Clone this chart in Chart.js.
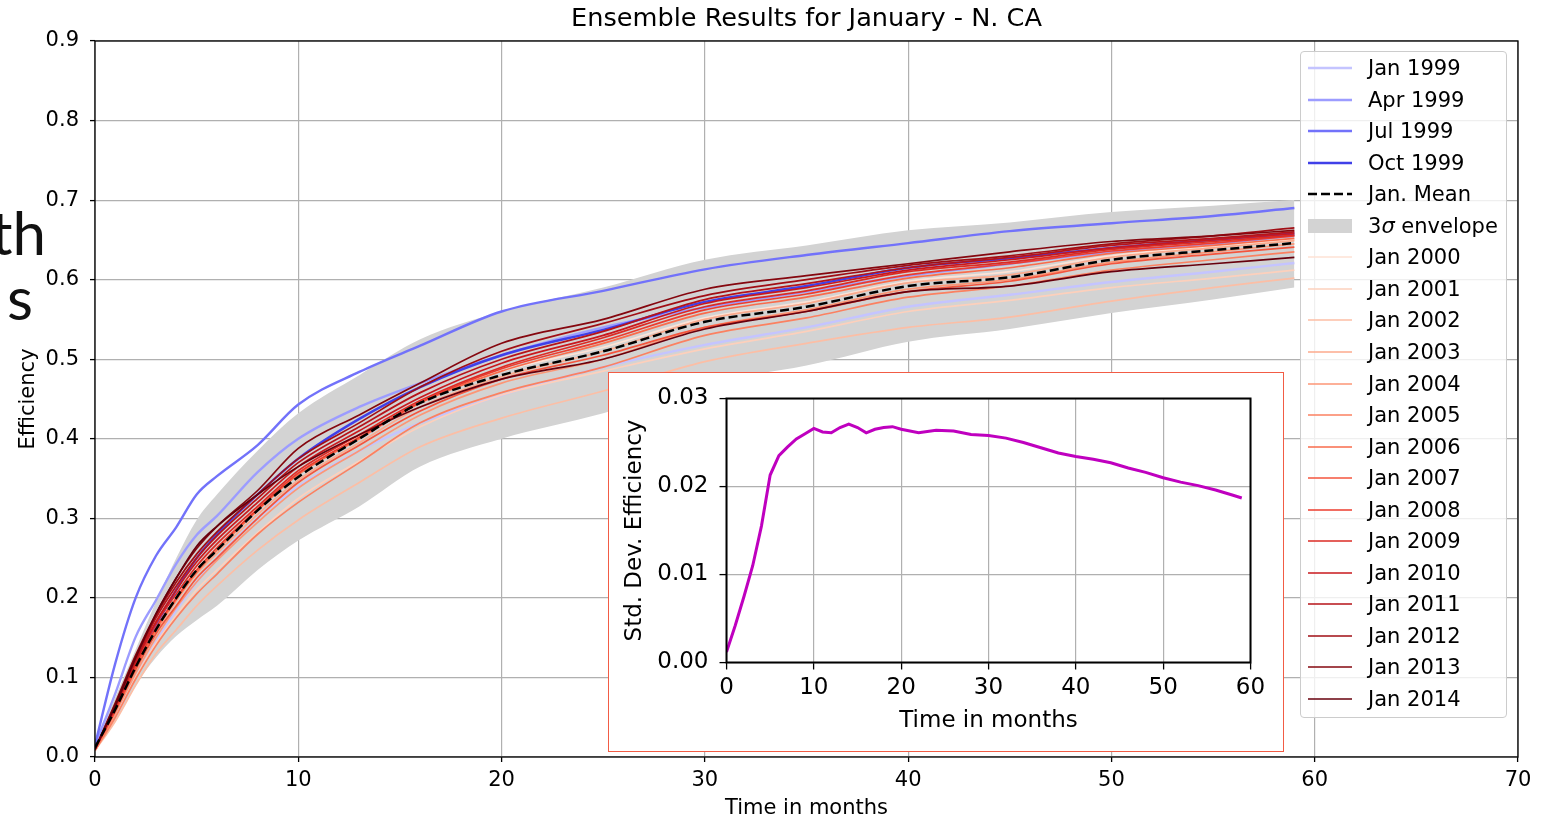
<!DOCTYPE html>
<html>
<head>
<meta charset="utf-8">
<script src="https://cdn.jsdelivr.net/npm/chart.js@4.4.1/dist/chart.umd.min.js"></script>
<style>
  html, body { margin: 0; padding: 0; background: #fff; }
  #page { position: relative; width: 1559px; height: 821px; overflow: hidden; font-family: 'DejaVu Sans', sans-serif; }
  #main { position: absolute; left: 0; top: 0; }
  .slide { position: absolute; font-family: 'Lato', 'Noto Sans', sans-serif; font-size: 60px; line-height: 60px; color: #111; white-space: nowrap; transform: translateX(-100%); }
  #inset { position: absolute; left: 608px; top: 372px; width: 676px; height: 380px; box-sizing: border-box; border: 1.5px solid #f25c45; background: #fff; }
  #inset canvas { position: absolute; left: 0; top: 0; }
  #legend { position: absolute; left: 1300px; top: 51px; width: 207px; height: 667px; box-sizing: border-box; border: 1px solid #cccccc; border-radius: 4px; background: rgba(255,255,255,0.8); }
  .row { position: absolute; left: 0; width: 200px; height: 24px; }
  .row svg { position: absolute; left: 7px; top: 2px; }
  .row span { position: absolute; left: 67px; top: 0; font-size: 21px; line-height: 24px; color: #000; white-space: nowrap; }
</style>
</head>
<body>
<div id="page">
  <canvas id="main" width="1559" height="821"></canvas>
  <div class="slide" style="left:46px; top:202px;">th</div>
  <div class="slide" style="left:33px; top:267px;">s</div>
  <div id="inset"><canvas id="std" width="673" height="377"></canvas></div>
  <div id="legend"></div>
</div>
<script>
const months = [0, 1, 2, 3, 4, 5, 6, 8, 10, 13, 16, 20, 25, 30, 35, 40, 45, 50, 55, 59];

// 1999 runs (blue)
const jan1999 = [0.010, 0.050, 0.100, 0.145, 0.185, 0.220, 0.250, 0.300, 0.340, 0.385, 0.420, 0.455, 0.490, 0.518, 0.540, 0.566, 0.581, 0.597, 0.610, 0.621];
const apr1999 = [0.015, 0.080, 0.151, 0.197, 0.243, 0.279, 0.303, 0.358, 0.400, 0.440, 0.470, 0.505, 0.540, 0.565, 0.585, 0.605, 0.620, 0.635, 0.645, 0.655];
const jul1999 = [0.015, 0.118, 0.200, 0.253, 0.289, 0.330, 0.353, 0.392, 0.443, 0.484, 0.517, 0.560, 0.586, 0.613, 0.631, 0.646, 0.661, 0.671, 0.680, 0.690];
const oct1999 = [0.010, 0.065, 0.122, 0.165, 0.210, 0.250, 0.280, 0.330, 0.375, 0.425, 0.465, 0.505, 0.537, 0.572, 0.592, 0.615, 0.627, 0.640, 0.650, 0.658];

// January mean and the 3 sigma envelope
const janMean = [0.012, 0.060, 0.113, 0.160, 0.200, 0.235, 0.260, 0.310, 0.352, 0.400, 0.445, 0.480, 0.510, 0.547, 0.566, 0.592, 0.603, 0.625, 0.637, 0.646];
const envHigh = [0.016, 0.075, 0.135, 0.195, 0.250, 0.298, 0.330, 0.385, 0.432, 0.480, 0.525, 0.560, 0.590, 0.625, 0.643, 0.662, 0.672, 0.685, 0.693, 0.700];
const envLow  = [0.008, 0.045, 0.090, 0.125, 0.152, 0.172, 0.190, 0.235, 0.272, 0.315, 0.365, 0.400, 0.432, 0.470, 0.492, 0.522, 0.538, 0.558, 0.575, 0.590];

// January runs 2000..2014 (reds)
const jan2000 = [0.012, 0.062, 0.115, 0.162, 0.202, 0.237, 0.263, 0.313, 0.356, 0.404, 0.448, 0.485, 0.515, 0.552, 0.572, 0.598, 0.610, 0.630, 0.642, 0.650];
const jan2001 = [0.008, 0.050, 0.100, 0.143, 0.178, 0.210, 0.235, 0.282, 0.325, 0.372, 0.415, 0.455, 0.485, 0.513, 0.535, 0.560, 0.574, 0.590, 0.602, 0.612];
const jan2002 = [0.008, 0.045, 0.090, 0.130, 0.160, 0.190, 0.215, 0.260, 0.298, 0.345, 0.390, 0.426, 0.460, 0.497, 0.520, 0.540, 0.553, 0.573, 0.590, 0.602];
const jan2003 = [0.010, 0.057, 0.110, 0.157, 0.196, 0.230, 0.256, 0.305, 0.348, 0.395, 0.440, 0.478, 0.510, 0.550, 0.570, 0.596, 0.606, 0.628, 0.640, 0.649];
const jan2004 = [0.008, 0.055, 0.105, 0.150, 0.188, 0.220, 0.247, 0.295, 0.338, 0.385, 0.430, 0.470, 0.500, 0.540, 0.562, 0.588, 0.600, 0.622, 0.635, 0.645];
const jan2005 = [0.008, 0.050, 0.098, 0.140, 0.175, 0.205, 0.230, 0.280, 0.320, 0.370, 0.420, 0.458, 0.490, 0.530, 0.552, 0.578, 0.592, 0.612, 0.625, 0.635];
const jan2006 = [0.010, 0.058, 0.112, 0.160, 0.198, 0.232, 0.260, 0.310, 0.355, 0.400, 0.445, 0.485, 0.520, 0.558, 0.578, 0.602, 0.615, 0.633, 0.643, 0.652];
const jan2007 = [0.010, 0.058, 0.110, 0.155, 0.190, 0.225, 0.250, 0.300, 0.345, 0.392, 0.435, 0.475, 0.505, 0.540, 0.560, 0.585, 0.598, 0.620, 0.632, 0.641];
const jan2008 = [0.010, 0.060, 0.115, 0.163, 0.200, 0.235, 0.263, 0.312, 0.357, 0.402, 0.446, 0.488, 0.523, 0.562, 0.582, 0.606, 0.620, 0.636, 0.646, 0.655];
const jan2009 = [0.010, 0.062, 0.118, 0.168, 0.205, 0.240, 0.268, 0.315, 0.360, 0.405, 0.448, 0.490, 0.527, 0.566, 0.586, 0.610, 0.622, 0.638, 0.648, 0.656];
const jan2010 = [0.010, 0.063, 0.120, 0.170, 0.210, 0.245, 0.273, 0.320, 0.365, 0.410, 0.452, 0.495, 0.530, 0.570, 0.590, 0.612, 0.625, 0.640, 0.650, 0.658];
const jan2011 = [0.010, 0.065, 0.122, 0.175, 0.215, 0.250, 0.278, 0.325, 0.370, 0.415, 0.458, 0.500, 0.535, 0.575, 0.595, 0.615, 0.628, 0.643, 0.652, 0.660];
const jan2012 = [0.010, 0.065, 0.125, 0.178, 0.220, 0.255, 0.283, 0.330, 0.375, 0.420, 0.465, 0.510, 0.545, 0.580, 0.600, 0.618, 0.630, 0.645, 0.655, 0.665];
const jan2013 = [0.010, 0.068, 0.128, 0.180, 0.225, 0.262, 0.290, 0.335, 0.388, 0.430, 0.470, 0.520, 0.550, 0.588, 0.605, 0.620, 0.635, 0.648, 0.655, 0.662];
const jan2014 = [0.010, 0.065, 0.125, 0.180, 0.225, 0.265, 0.290, 0.330, 0.365, 0.405, 0.440, 0.475, 0.500, 0.538, 0.560, 0.585, 0.592, 0.610, 0.620, 0.628];

const blueLabels = ['Jan 1999', 'Apr 1999', 'Jul 1999', 'Oct 1999'];
const blueSeries = [jan1999, apr1999, jul1999, oct1999];
const blueColors = ['#c4c4ff', '#9c9cff', '#7272fa', '#4040e8'];

const redLabels = ['Jan 2000', 'Jan 2001', 'Jan 2002', 'Jan 2003', 'Jan 2004', 'Jan 2005', 'Jan 2006', 'Jan 2007',
                   'Jan 2008', 'Jan 2009', 'Jan 2010', 'Jan 2011', 'Jan 2012', 'Jan 2013', 'Jan 2014'];
const redSeries = [jan2000, jan2001, jan2002, jan2003, jan2004, jan2005, jan2006, jan2007,
                   jan2008, jan2009, jan2010, jan2011, jan2012, jan2013, jan2014];
const redColors = ['#fee2d5', '#fdd0bc', '#fcbea5', '#fcaa8d', '#fc9676', '#fb8161', '#f96b4b', '#f4553d',
                   '#ec3c2e', '#db2b24', '#c9181d', '#b61319', '#a10e15', '#85070f', '#67000d'];

// inset: standard deviation of efficiency
const stdMonths = [0, 1, 2, 3, 4, 5, 6, 7, 8, 9, 10, 11, 12, 13, 14, 15, 16, 17, 18, 19, 20, 22, 24, 26, 28, 30,
                   32, 34, 36, 38, 40, 42, 44, 46, 48, 50, 52, 54, 56, 58, 59];
const stdValues = [0.0012, 0.0042, 0.0075, 0.0110, 0.0155, 0.0213, 0.0235, 0.0245, 0.0254, 0.0260, 0.0266,
                   0.0262, 0.0261, 0.0267, 0.0271, 0.0267, 0.0261, 0.0265, 0.0267, 0.0268, 0.0265, 0.0261,
                   0.0264, 0.0263, 0.0259, 0.0258, 0.0255, 0.0250, 0.0244, 0.0238, 0.0234, 0.0231, 0.0227,
                   0.0221, 0.0216, 0.0210, 0.0205, 0.0201, 0.0196, 0.0190, 0.0187];

const FONT = 'DejaVu Sans';
const TITLE = 'Ensemble Results for January - N. CA';
const pts = vals => months.map((m, i) => ({ x: m, y: vals[i] }));

// box around the plot area (matplotlib spines) and an axes title centred over it
const frame = {
    id: 'frame',
    afterDatasetsDraw(chart, args, opts) {
        const { ctx, chartArea: a } = chart;
        ctx.save();
        ctx.strokeStyle = '#000';
        ctx.lineWidth = opts.width || 1.3;
        ctx.strokeRect(a.left, a.top, a.right - a.left, a.bottom - a.top);
        if (opts.title) {
            ctx.fillStyle = '#000';
            ctx.font = `${opts.titleSize}px "${FONT}"`;
            ctx.textAlign = 'center';
            ctx.textBaseline = 'middle';
            ctx.fillText(opts.title, (a.left + a.right) / 2, opts.titleY);
        }
        ctx.restore();
    }
};

const datasets = [];
datasets.push({ label: 'Jan. Mean', data: pts(janMean), borderColor: '#000', borderWidth: 2.5, borderDash: [9, 4], order: 0 });
redSeries.forEach((s, i) => {
    datasets.push({ label: redLabels[i], data: pts(s), borderColor: redColors[i], borderWidth: 1.7, order: 15 - i });
});
blueSeries.forEach((s, i) => {
    datasets.push({ label: blueLabels[i], data: pts(s), borderColor: blueColors[i], borderWidth: 2.4, order: 20 - i });
});
datasets.push({ label: 'env low', data: pts(envLow), borderColor: 'rgba(0,0,0,0)', borderWidth: 0, fill: false, order: 31 });
datasets.push({ label: '3σ envelope', data: pts(envHigh), borderColor: 'rgba(0,0,0,0)', borderWidth: 0, backgroundColor: '#d3d3d3', fill: '-1', order: 30 });

function axisStyle(size, tickLen, pad) {
    return {
        ticks: { color: '#000', font: { family: FONT, size }, padding: pad, maxRotation: 0, autoSkip: false },
        grid: { color: '#b0b0b0', lineWidth: 1.2, tickLength: tickLen, tickColor: '#000', tickWidth: 1.3 },
        border: { display: false }
    };
}

const mx = axisStyle(21, 5, 6);
const my = axisStyle(21, 5, 11);

new Chart(document.getElementById('main'), {
    type: 'line',
    data: { datasets },
    options: {
        responsive: false,
        animation: false,
        layout: { padding: { left: 0, right: 41, top: 41, bottom: 0 } },
        elements: { point: { radius: 0 }, line: { cubicInterpolationMode: 'monotone' } },
        plugins: {
            legend: { display: false },
            tooltip: { enabled: false },
            frame: { width: 1.3, title: TITLE, titleSize: 25.6, titleY: 19 }
        },
        scales: {
            x: {
                type: 'linear', min: 0, max: 70,
                afterFit: s => { s.height = 64; },
                ticks: { ...mx.ticks, stepSize: 10 },
                grid: mx.grid, border: mx.border,
                title: { display: true, text: 'Time in months', color: '#000', font: { family: FONT, size: 21 }, padding: { top: 0, bottom: 0 } }
            },
            y: {
                min: 0, max: 0.9,
                afterFit: s => { s.width = 95; },
                ticks: { ...my.ticks, stepSize: 0.1, callback: v => Number(v).toFixed(1) },
                grid: my.grid, border: my.border,
                title: { display: true, text: 'Efficiency', color: '#000', font: { family: FONT, size: 21 }, padding: { top: 16, bottom: 0 } }
            }
        }
    },
    plugins: [frame]
});

const ix = axisStyle(23, 7, 5);
const iy = axisStyle(23, 7, 11);

new Chart(document.getElementById('std'), {
    type: 'line',
    data: {
        datasets: [{
            label: 'std',
            data: stdMonths.map((m, i) => ({ x: m, y: stdValues[i] })),
            borderColor: '#bf00bf', borderWidth: 3, pointRadius: 0, tension: 0
        }]
    },
    options: {
        responsive: false,
        animation: false,
        layout: { padding: { left: 0, right: 31.5, top: 25.5, bottom: 0 } },
        plugins: { legend: { display: false }, tooltip: { enabled: false }, frame: { width: 2 } },
        scales: {
            x: {
                type: 'linear', min: 0, max: 60,
                afterFit: s => { s.height = 87.5; },
                ticks: { ...ix.ticks, stepSize: 10 },
                grid: ix.grid, border: ix.border,
                title: { display: true, text: 'Time in months', color: '#000', font: { family: FONT, size: 23 }, padding: { top: 0, bottom: 14.7 } }
            },
            y: {
                min: 0, max: 0.03,
                afterFit: s => { s.width = 117.5; },
                ticks: { ...iy.ticks, stepSize: 0.01, callback: v => Number(v).toFixed(2) },
                grid: iy.grid, border: iy.border,
                title: { display: true, text: 'Std. Dev. Efficiency', color: '#000', font: { family: FONT, size: 23 }, padding: { top: 12.7, bottom: 0 } }
            }
        }
    },
    plugins: [frame]
});

// legend in matplotlib order
const legendItems = [];
blueLabels.forEach((l, i) => legendItems.push({ label: l, color: blueColors[i], width: 2.4 }));
legendItems.push({ label: 'Jan. Mean', color: '#000', width: 2.5, dash: '9 4' });
legendItems.push({ label: '3<i>σ</i> envelope', color: '#d3d3d3', patch: true });
redLabels.forEach((l, i) => legendItems.push({ label: l, color: redColors[i], width: 1.7 }));

const legend = document.getElementById('legend');
legendItems.forEach((it, i) => {
    const row = document.createElement('div');
    row.className = 'row';
    row.style.top = (16 + i * 31.55 - 12) + 'px';
    const handle = it.patch
        ? `<rect x="0" y="3" width="44" height="14" fill="${it.color}"/>`
        : `<line x1="0" y1="10" x2="44" y2="10" stroke="${it.color}" stroke-width="${it.width}"${it.dash ? ` stroke-dasharray="${it.dash}"` : ''}/>`;
    row.innerHTML = `<svg width="44" height="20">${handle}</svg><span>${it.label}</span>`;
    legend.appendChild(row);
});
</script>
</body>
</html>
